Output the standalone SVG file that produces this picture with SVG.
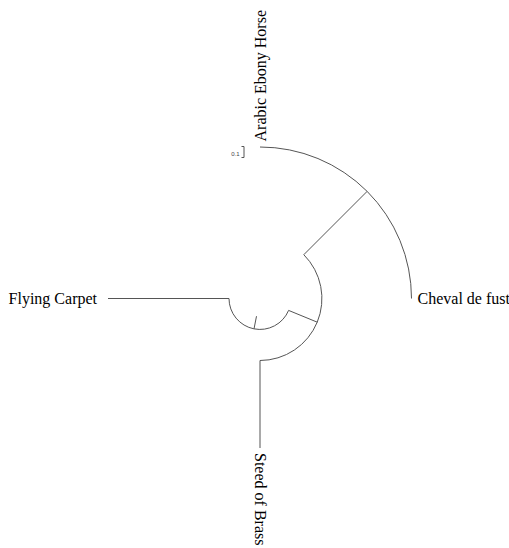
<svg xmlns="http://www.w3.org/2000/svg" width="509" height="548" viewBox="0 0 509 548">
  <style>
    .br { fill: none; stroke: #555; stroke-width: 1; }
    .lbl { font-family: "Liberation Serif", "Times New Roman", serif; font-size: 16px; fill: #000; }
    .sc { font-family: "Liberation Sans", Arial, sans-serif; font-size: 6px; fill: #444; }
  </style>
  <rect width="509" height="548" fill="#fff"/>
  <g id="connectors">
    <path class="br" d="M260,147 A151.5,151.5 0 0 1 411.5,298.5"/>
    <path class="br" d="M367.1,191.4 L303.8,254.7"/>
    <path class="br" d="M303.8,254.7 A62,62 0 0 1 260,360.5"/>
    <path class="br" d="M260,360.5 L260,448"/>
    <path class="br" d="M317.3,322.2 L288.6,310.4"/>
    <path class="br" d="M288.6,310.4 A31,31 0 0 1 229,298.5"/>
    <path class="br" d="M229,298.5 L108,298.5"/>
    <path class="br" d="M254,328.9 L256.5,316.2"/>
  </g>
  <g id="scale-bar">
    <path class="br" d="M241.5,146.5 L244,146.5 L244,157.5 L241.5,157.5"/>
    <text class="sc" x="239.5" y="156" text-anchor="end">0.1</text>
  </g>
  <g id="node-arabic-ebony-horse">
    <text class="lbl" transform="translate(265.5,141.5) rotate(-90)">Arabic Ebony Horse</text>
  </g>
  <g id="node-cheval-de-fust">
    <text class="lbl" x="417.5" y="304">Cheval de fust</text>
  </g>
  <g id="node-flying-carpet">
    <text class="lbl" x="97" y="304" text-anchor="end">Flying Carpet</text>
  </g>
  <g id="node-steed-of-brass">
    <text class="lbl" transform="translate(255,453) rotate(90)">Steed of Brass</text>
  </g>
</svg>
